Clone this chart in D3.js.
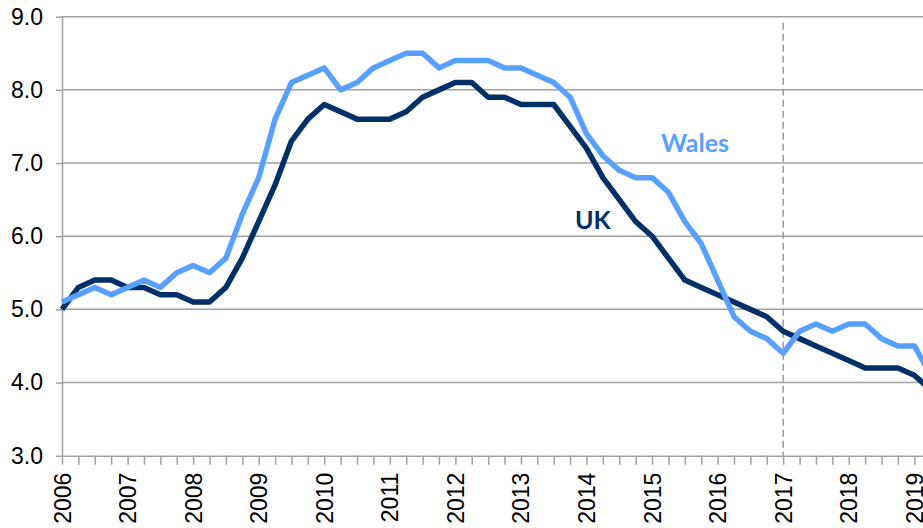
<!DOCTYPE html>
<html>
<head>
<meta charset="utf-8">
<script src="https://cdn.jsdelivr.net/npm/d3@7/dist/d3.min.js"></script>
<style>
  html, body { margin: 0; padding: 0; background: #fff; }
  svg { display: block; }
</style>
</head>
<body>
<svg id="chart" width="923" height="528"></svg>
<script>
// Quarterly series starting 2006 Q1
const startYear = 2006;
const walesValues = [5.1,5.2,5.3,5.2,5.3,5.4,5.3,5.5,5.6,5.5,5.7,6.3,6.8,7.6,8.1,8.2,8.3,8.0,8.1,8.3,8.4,8.5,8.5,8.3,8.4,8.4,8.4,8.3,8.3,8.2,8.1,7.9,7.4,7.1,6.9,6.8,6.8,6.6,6.2,5.9,5.4,4.9,4.7,4.6,4.4,4.7,4.8,4.7,4.8,4.8,4.6,4.5,4.5,4.1];
const ukValues    = [5.0,5.3,5.4,5.4,5.3,5.3,5.2,5.2,5.1,5.1,5.3,5.7,6.2,6.7,7.3,7.6,7.8,7.7,7.6,7.6,7.6,7.7,7.9,8.0,8.1,8.1,7.9,7.9,7.8,7.8,7.8,7.5,7.2,6.8,6.5,6.2,6.0,5.7,5.4,5.3,5.2,5.1,5.0,4.9,4.7,4.6,4.5,4.4,4.3,4.2,4.2,4.2,4.1,3.9];
const yearLabels = [2006,2007,2008,2009,2010,2011,2012,2013,2014,2015,2016,2017,2018,2019];
const yTicks = [3,4,5,6,7,8,9];
const markerYear = 2017;
const seriesNames = ["Wales", "UK"];

(function () {
const svg = d3.select("#chart");
const W = 923;
const plotLeft = 62, plotTop = 16.7, plotBottom = 455.7;

const x = d3.scaleLinear().domain([yearLabels[0], yearLabels[yearLabels.length - 1]]).range([plotLeft, 914.3]);
const y = d3.scaleLinear().domain([3, 9]).range([plotBottom, plotTop]);

const grey = "#a0a0a0";

// Gridlines
svg.append("g")
  .selectAll("line")
  .data(yTicks.filter(d => d > 3))
  .join("line")
  .attr("x1", plotLeft).attr("x2", W)
  .attr("y1", d => y(d)).attr("y2", d => y(d))
  .attr("stroke", grey).attr("stroke-width", 1.5);

// Y axis
const yAxis = svg.append("g")
  .attr("transform", `translate(${plotLeft},0)`)
  .call(d3.axisLeft(y).tickValues(yTicks).tickFormat(d3.format(".1f")).tickSize(6).tickSizeOuter(0).tickPadding(13));
yAxis.select(".domain").attr("stroke", grey).attr("stroke-width", 1.5);
yAxis.selectAll(".tick line").attr("stroke", grey).attr("stroke-width", 1.5);
yAxis.selectAll("text")
  .attr("font-family", "'Liberation Sans', Arial, sans-serif")
  .attr("font-size", 23).attr("fill", "#000");

// X axis
const quarters = d3.range(0, 13 * 4 + 3).map(i => startYear + i / 4);
const xAxis = svg.append("g")
  .attr("transform", `translate(0,${plotBottom})`)
  .call(d3.axisBottom(x).tickValues(quarters)
    .tickFormat(d => yearLabels.includes(d) ? String(d) : "")
    .tickSize(9).tickSizeOuter(0));
xAxis.select(".domain").attr("stroke", grey).attr("stroke-width", 1.5).attr("d", `M${plotLeft},0.5H${W}`);
xAxis.selectAll(".tick line").attr("stroke", grey).attr("stroke-width", 1.5);
xAxis.selectAll("text")
  .attr("font-family", "'Liberation Sans', Arial, sans-serif")
  .attr("font-size", 23).attr("fill", "#000")
  .attr("transform", "rotate(-90)")
  .attr("text-anchor", "end")
  .attr("x", -17).attr("y", 0).attr("dy", "0.35em");

// Dashed marker at 2017
svg.append("line")
  .attr("x1", x(markerYear)).attr("x2", x(markerYear))
  .attr("y1", 22.7).attr("y2", plotBottom)
  .attr("stroke", "#999").attr("stroke-width", 1.5)
  .attr("stroke-dasharray", "7,4");

// Lines
const line = d3.line()
  .x((d, i) => x(startYear + i / 4))
  .y(d => y(d));

svg.append("path").datum(ukValues)
  .attr("fill", "none").attr("stroke", "#003068")
  .attr("stroke-width", 5.5).attr("stroke-linejoin", "round")
  .attr("d", line);

svg.append("path").datum(walesValues)
  .attr("fill", "none").attr("stroke", "#58a0ff")
  .attr("stroke-width", 5.5).attr("stroke-linejoin", "round")
  .attr("d", line);

// Labels
svg.append("text")
  .attr("x", 661).attr("y", 152)
  .attr("font-family", "Lato, 'Open Sans', sans-serif")
  .attr("font-weight", "bold").attr("font-size", 25)
  .attr("fill", "#58a0ff").text(seriesNames[0]);

svg.append("text")
  .attr("x", 575).attr("y", 229.3)
  .attr("font-family", "Lato, 'Open Sans', sans-serif")
  .attr("font-weight", "bold").attr("font-size", 25)
  .attr("fill", "#003068").text(seriesNames[1]);
})();
</script>
</body>
</html>
